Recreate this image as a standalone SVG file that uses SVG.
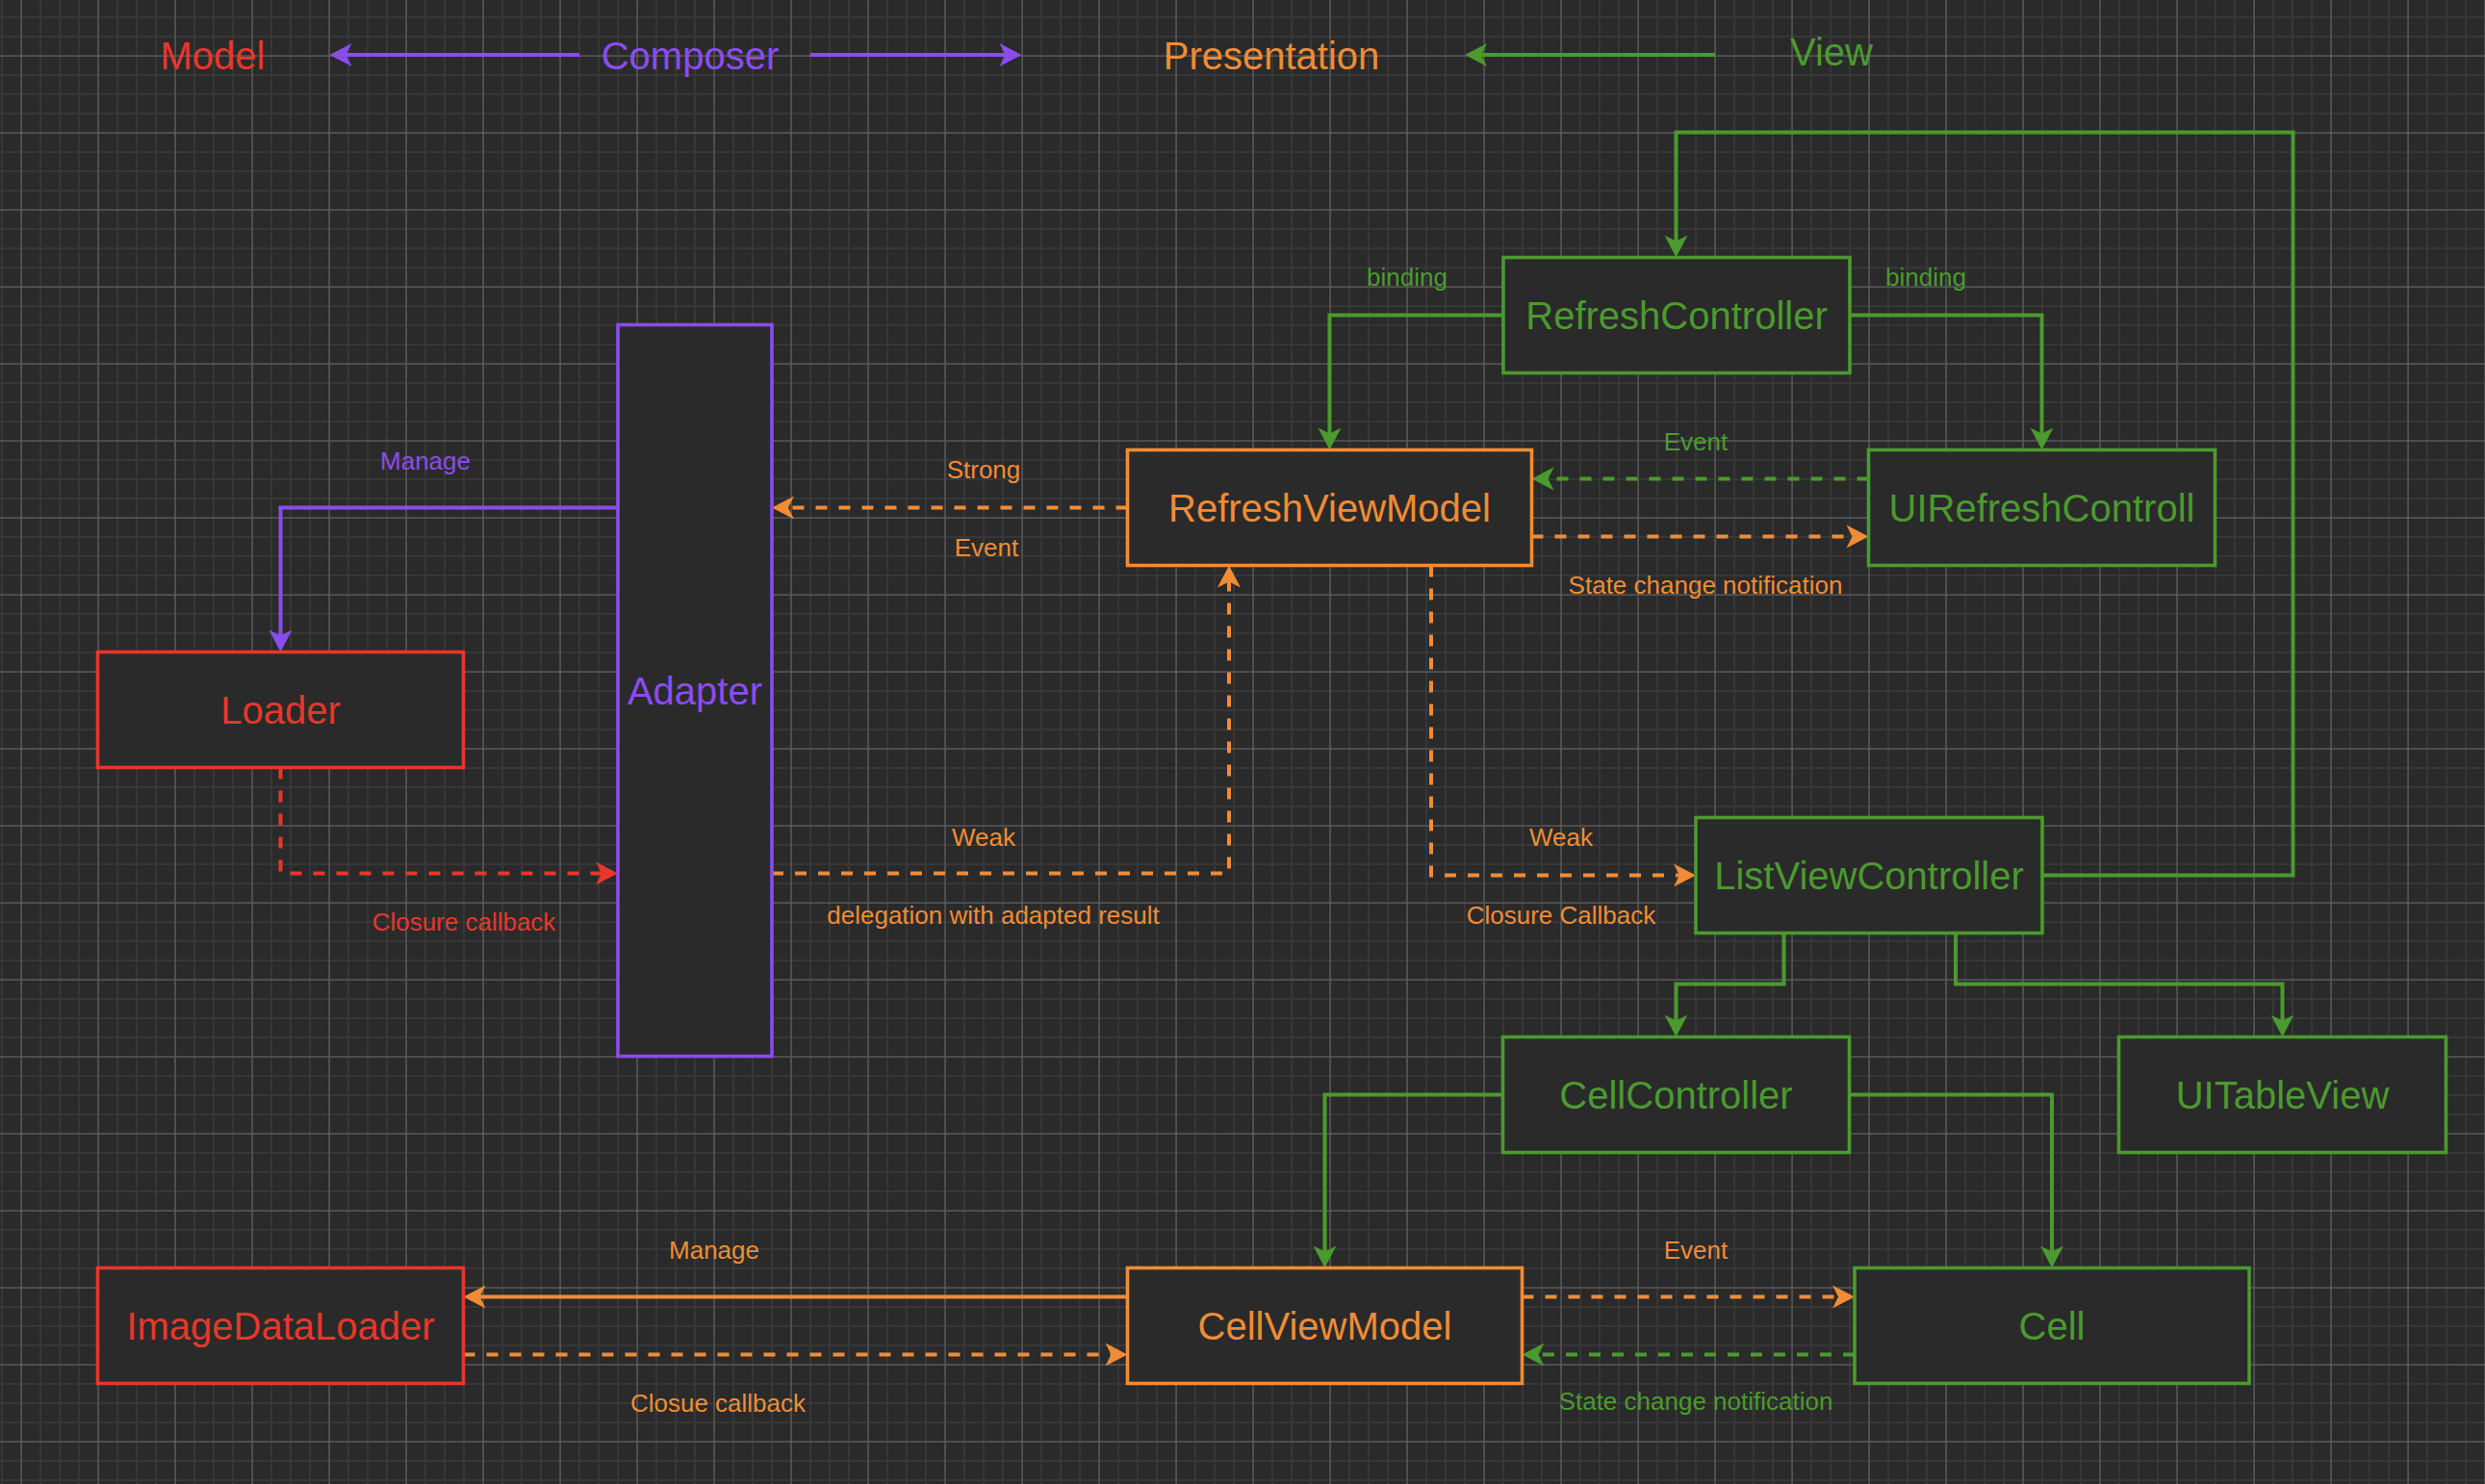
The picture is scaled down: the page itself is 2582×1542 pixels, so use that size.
<svg xmlns="http://www.w3.org/2000/svg" width="2582" height="1542" viewBox="0 0 2582 1542">
<style>
.box{fill:#2a2a2a;stroke-width:3.6}
.nt{font-family:"Liberation Sans",Arial,sans-serif;font-size:40px;text-anchor:middle}
.lb{font-family:"Liberation Sans",Arial,sans-serif;font-size:26px;text-anchor:middle}
.e{fill:none;stroke-width:4}
.d{stroke-dasharray:12 12}
.o{stroke:#F08C35}.g{stroke:#4B9A2E}.p{stroke:#8A4CF0}.r{stroke:#E9362B}
.fo{fill:#F08C35}.fg{fill:#4B9A2E}.fp{fill:#8A4CF0}.fr{fill:#E9362B}
</style>
<defs>
<pattern id="minor" width="20" height="20" patternUnits="userSpaceOnUse">
<rect x="1" y="0" width="2" height="20" fill="#373737"/>
<rect x="0" y="17" width="20" height="2" fill="#373737"/>
</pattern>
<pattern id="major" width="80" height="80" patternUnits="userSpaceOnUse">
<rect x="21.5" y="0" width="1.2" height="80" fill="#5e5e5e"/>
<rect x="0" y="57.5" width="80" height="1.2" fill="#5e5e5e"/>
</pattern>
<marker id="aO" markerUnits="userSpaceOnUse" markerWidth="30" markerHeight="30" viewBox="0 -15 30 30" refX="13" refY="0" orient="auto"><path d="M0,-12 L23,0 L0,12 L6,0 Z" fill="#F08C35"/></marker>
<marker id="aG" markerUnits="userSpaceOnUse" markerWidth="30" markerHeight="30" viewBox="0 -15 30 30" refX="13" refY="0" orient="auto"><path d="M0,-12 L23,0 L0,12 L6,0 Z" fill="#4B9A2E"/></marker>
<marker id="aP" markerUnits="userSpaceOnUse" markerWidth="30" markerHeight="30" viewBox="0 -15 30 30" refX="13" refY="0" orient="auto"><path d="M0,-12 L23,0 L0,12 L6,0 Z" fill="#8A4CF0"/></marker>
<marker id="aR" markerUnits="userSpaceOnUse" markerWidth="30" markerHeight="30" viewBox="0 -15 30 30" refX="13" refY="0" orient="auto"><path d="M0,-12 L23,0 L0,12 L6,0 Z" fill="#E9362B"/></marker>
</defs>
<rect width="2582" height="1542" fill="#2a2a2a"/>
<rect width="2582" height="1542" fill="url(#minor)"/>
<rect width="2582" height="1542" fill="url(#major)"/>

<g id="legend">
<text class="nt fr" x="221" y="72">Model</text>
<text class="nt fp" x="717" y="72">Composer</text>
<text class="nt fo" x="1321" y="72">Presentation</text>
<text class="nt fg" x="1903" y="68">View</text>
</g>

<g id="connectors">
<path class="e p" d="M602,57 H352.5" marker-end="url(#aP)"/>
<path class="e p" d="M841.6,57 H1051.5" marker-end="url(#aP)"/>
<path class="e g" d="M1782,57 H1532" marker-end="url(#aG)"/>

<path class="e p" d="M642,527.5 H291.5 V667.5" marker-end="url(#aP)"/>
<path class="e o d" d="M1171.5,527.5 H812" marker-end="url(#aO)"/>
<path class="e o d" d="M802,907.5 H1277 V597.5" marker-end="url(#aO)"/>
<path class="e o d" d="M1487,587.5 V909.5 H1752" marker-end="url(#aO)"/>
<path class="e r d" d="M291.5,797.5 V907.5 H632" marker-end="url(#aR)"/>
<path class="e g" d="M2122,909.5 H2382.5 V137.5 H1741.5 V257.5" marker-end="url(#aG)"/>
<path class="e g" d="M1562,327.5 H1381.5 V457.5" marker-end="url(#aG)"/>
<path class="e g" d="M1922,327.5 H2121.5 V457.5" marker-end="url(#aG)"/>
<path class="e g d" d="M1941.5,497.5 H1601.5" marker-end="url(#aG)"/>
<path class="e o d" d="M1591.5,557.5 H1931.5" marker-end="url(#aO)"/>
<path class="e g" d="M1853.5,969.5 V1022.5 H1741.5 V1067.5" marker-end="url(#aG)"/>
<path class="e g" d="M2032,969.5 V1022.5 H2371.5 V1067.5" marker-end="url(#aG)"/>
<path class="e g" d="M1561.5,1137.5 H1376.5 V1307.5" marker-end="url(#aG)"/>
<path class="e g" d="M1921.5,1137.5 H2132 V1307.5" marker-end="url(#aG)"/>
<path class="e o" d="M1171.5,1347.5 H491.5" marker-end="url(#aO)"/>
<path class="e o d" d="M481.5,1407.5 H1161.5" marker-end="url(#aO)"/>
<path class="e o d" d="M1581.5,1347.5 H1917" marker-end="url(#aO)"/>
<path class="e g d" d="M1927,1407.5 H1591.5" marker-end="url(#aG)"/>

<text class="lb fp" x="442" y="488">Manage</text>
<text class="lb fo" x="1022" y="497">Strong</text>
<text class="lb fo" x="1025" y="578">Event</text>
<text class="lb fo" x="1022" y="879">Weak</text>
<text class="lb fo" x="1032" y="960">delegation with adapted result</text>
<text class="lb fo" x="1622" y="879">Weak</text>
<text class="lb fo" x="1622" y="960">Closure Callback</text>
<text class="lb fr" x="482" y="967">Closure callback</text>
<text class="lb fg" x="1462" y="297">binding</text>
<text class="lb fg" x="2001" y="297">binding</text>
<text class="lb fg" x="1762" y="468">Event</text>
<text class="lb fo" x="1772" y="617">State change notification</text>
<text class="lb fo" x="742" y="1308">Manage</text>
<text class="lb fo" x="746" y="1467">Closue callback</text>
<text class="lb fo" x="1762" y="1308">Event</text>
<text class="lb fg" x="1762" y="1465">State change notification</text>
</g>

<g id="Loader"><rect class="box r" x="101.5" y="677.5" width="380" height="120"/><text class="nt fr" x="291.5" y="752">Loader</text></g>
<g id="Adapter"><rect class="box p" x="642" y="337.5" width="160" height="760"/><text class="nt fp" x="722" y="732">Adapter</text></g>
<g id="RefreshController"><rect class="box g" x="1562" y="267.5" width="360" height="120"/><text class="nt fg" x="1742" y="342">RefreshController</text></g>
<g id="RefreshViewModel"><rect class="box o" x="1171.5" y="467.5" width="420" height="120"/><text class="nt fo" x="1381.5" y="542">RefreshViewModel</text></g>
<g id="UIRefreshControll"><rect class="box g" x="1941.5" y="467.5" width="360" height="120"/><text class="nt fg" x="2121.5" y="542">UIRefreshControll</text></g>
<g id="ListViewController"><rect class="box g" x="1762" y="849.5" width="360" height="120"/><text class="nt fg" x="1942" y="924">ListViewController</text></g>
<g id="CellController"><rect class="box g" x="1561.5" y="1077.5" width="360" height="120"/><text class="nt fg" x="1741.5" y="1152">CellController</text></g>
<g id="UITableView"><rect class="box g" x="2201.5" y="1077.5" width="340" height="120"/><text class="nt fg" x="2371.5" y="1152">UITableView</text></g>
<g id="ImageDataLoader"><rect class="box r" x="101.5" y="1317.5" width="380" height="120"/><text class="nt fr" x="291.5" y="1392">ImageDataLoader</text></g>
<g id="CellViewModel"><rect class="box o" x="1171.5" y="1317.5" width="410" height="120"/><text class="nt fo" x="1376.5" y="1392">CellViewModel</text></g>
<g id="Cell"><rect class="box g" x="1927" y="1317.5" width="410" height="120"/><text class="nt fg" x="2132" y="1392">Cell</text></g>
</svg>
